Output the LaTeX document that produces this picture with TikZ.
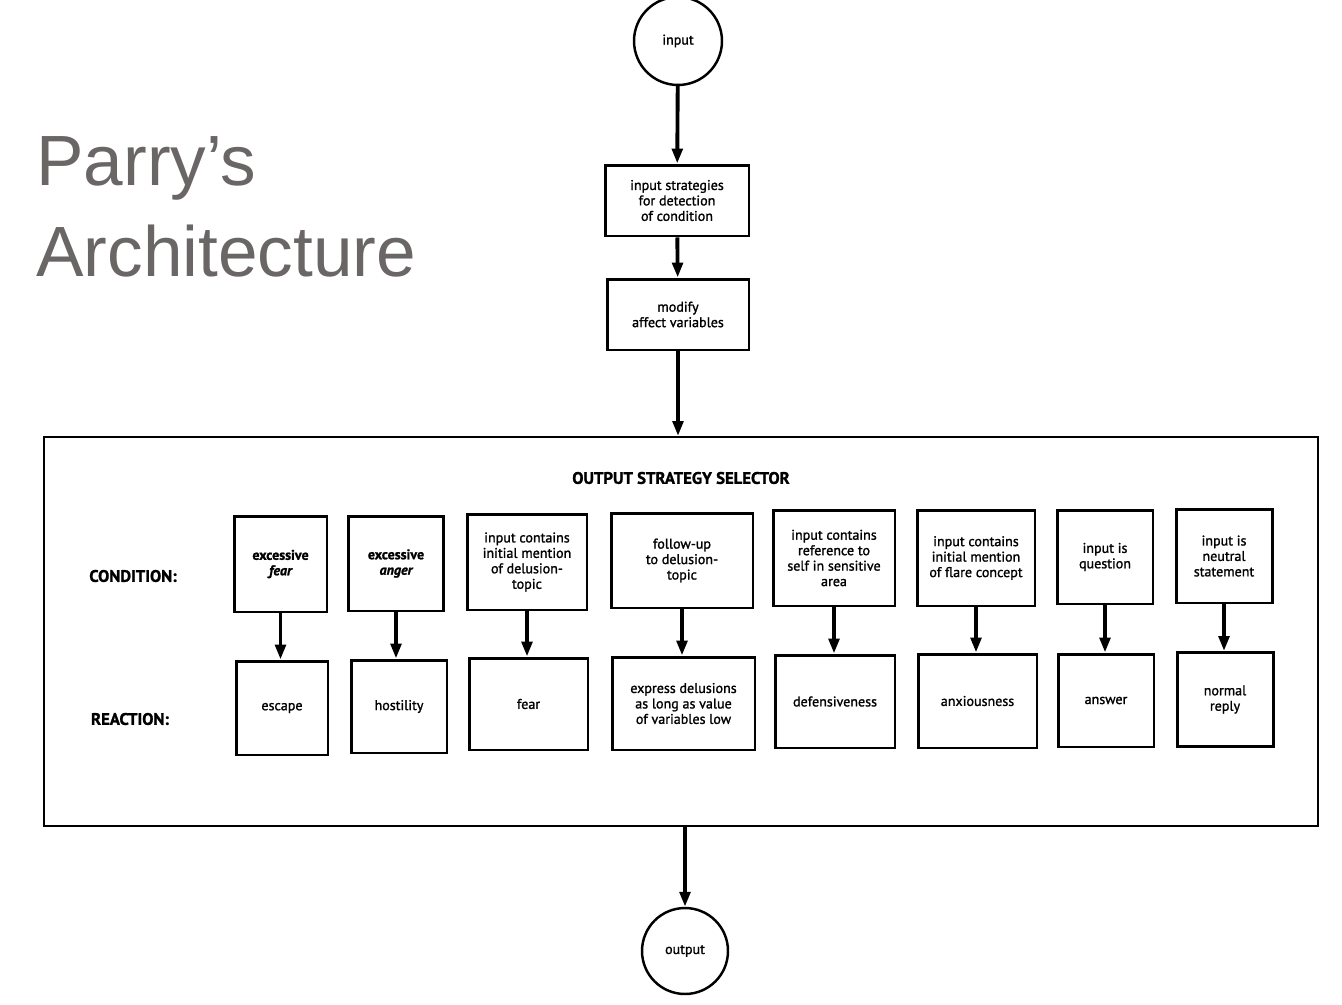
\documentclass[tikz,border=0pt]{standalone}
\usepackage{fontspec}
\setmainfont{Liberation Sans}
\newfontfamily\boxfont{PT Sans}[FakeBold=1.3]
\usepackage{tikz}
\usetikzlibrary{arrows.meta}
\definecolor{titlegray}{RGB}{106,102,101}

\begin{document}
\begin{tikzpicture}[x=0.02cm, y=-0.02cm,
  >={Triangle[length=8.5pt, width=6pt]},
  box/.style={draw, line width=1.7pt, rectangle, align=center, inner sep=0pt,
    font=\boxfont\fontsize{8}{8.8}\selectfont},
  term/.style={draw, line width=1.4pt, circle, inner sep=0pt,
    font=\boxfont\fontsize{8}{8.8}\selectfont},
  frame/.style={draw, line width=1.2pt, rectangle, inner sep=0pt},
  rowlabel/.style={font=\boxfont\bfseries\fontsize{9.5}{11}\selectfont},
  flow/.style={->, line width=2.2pt}]

\useasboundingbox (0,0) rectangle (1342,1004);

% title

\node[anchor=base west, inner sep=0pt, text=titlegray, font=\fontsize{40.5}{48}\selectfont] (title1) at (36,185) {Parry’s};
\node[anchor=base west, inner sep=0pt, text=titlegray, font=\fontsize{40.5}{48}\selectfont] (title2) at (36,276) {Architecture};

% input side

\node[term, minimum size=1.76cm] (in) at (678,41) {input};
\node[box, minimum width=2.88cm, minimum height=1.42cm] (s1) at (677,200.5) {input strategies\\for detection\\of condition};
\node[box, minimum width=2.84cm, minimum height=1.42cm] (s2) at (678,314.5) {modify\\affect variables};

% selector frame

\node[frame, minimum width=25.48cm, minimum height=7.78cm] (sel) at (681,631.5) {};
\node[rowlabel] (head) at (681,478) {OUTPUT STRATEGY SELECTOR};
\node[rowlabel] (cond) at (133,576) {CONDITION:};
\node[rowlabel] (react) at (130,719) {REACTION:};

% condition nodes

\node[box, minimum width=1.86cm, minimum height=1.92cm] (c1) at (280.5,564) {\bfseries excessive\\\bfseries\itshape fear};
\node[box, minimum width=1.90cm, minimum height=1.90cm] (c2) at (396,563.5) {\bfseries excessive\\\bfseries\itshape anger};
\node[box, minimum width=2.40cm, minimum height=1.92cm] (c3) at (527,562) {input contains\\initial mention\\of delusion-\\topic};
\node[box, minimum width=2.84cm, minimum height=1.90cm] (c4) at (682,560.5) {follow-up\\to delusion-\\topic};
\node[box, minimum width=2.44cm, minimum height=1.92cm] (c5) at (834,558) {input contains\\reference to\\self in sensitive\\area};
\node[box, minimum width=2.36cm, minimum height=1.92cm] (c6) at (976,558) {input contains\\initial mention\\of flare concept};
\node[box, minimum width=1.92cm, minimum height=1.88cm] (c7) at (1105,557) {input is\\question};
\node[box, minimum width=1.92cm, minimum height=1.88cm] (c8) at (1224,556) {input is\\neutral\\statement};

% reaction nodes

\node[box, minimum width=1.84cm, minimum height=1.88cm] (r1) at (282,708) {escape};
\node[box, minimum width=1.92cm, minimum height=1.86cm] (r2) at (399,706.5) {hostility};
\node[box, minimum width=2.38cm, minimum height=1.84cm] (r3) at (528.5,704) {fear};
\node[box, minimum width=2.86cm, minimum height=1.86cm] (r4) at (683.5,703.5) {express delusions\\as long as value\\of variables low};
\node[box, minimum width=2.40cm, minimum height=1.86cm] (r5) at (835,701.5) {defensiveness};
\node[box, minimum width=2.38cm, minimum height=1.88cm] (r6) at (977.5,701) {anxiousness};
\node[box, minimum width=1.92cm, minimum height=1.86cm] (r7) at (1106,700.5) {answer};
\node[box, minimum width=1.92cm, minimum height=1.88cm] (r8) at (1225,699.5) {normal\\reply};

% output node

\node[term, minimum size=1.72cm] (out) at (685,951) {output};


% input to selector
\draw[flow] (in) -- (s1);
\draw[flow] (s1) -- (s2);
\draw[flow] (s2.south) -- (s2.south |- sel.north);

% condition to reaction
\draw[flow] (c1.south) -- (c1.south |- r1.north);
\draw[flow] (c2.south) -- (c2.south |- r2.north);
\draw[flow] (c3.south) -- (c3.south |- r3.north);
\draw[flow] (c4.south) -- (c4.south |- r4.north);
\draw[flow] (c5.south) -- (c5.south |- r5.north);
\draw[flow] (c6.south) -- (c6.south |- r6.north);
\draw[flow] (c7.south) -- (c7.south |- r7.north);
\draw[flow] (c8.south) -- (c8.south |- r8.north);

% selector to output
\draw[flow] (out.north |- sel.south) -- (out);

\end{tikzpicture}
\end{document}
